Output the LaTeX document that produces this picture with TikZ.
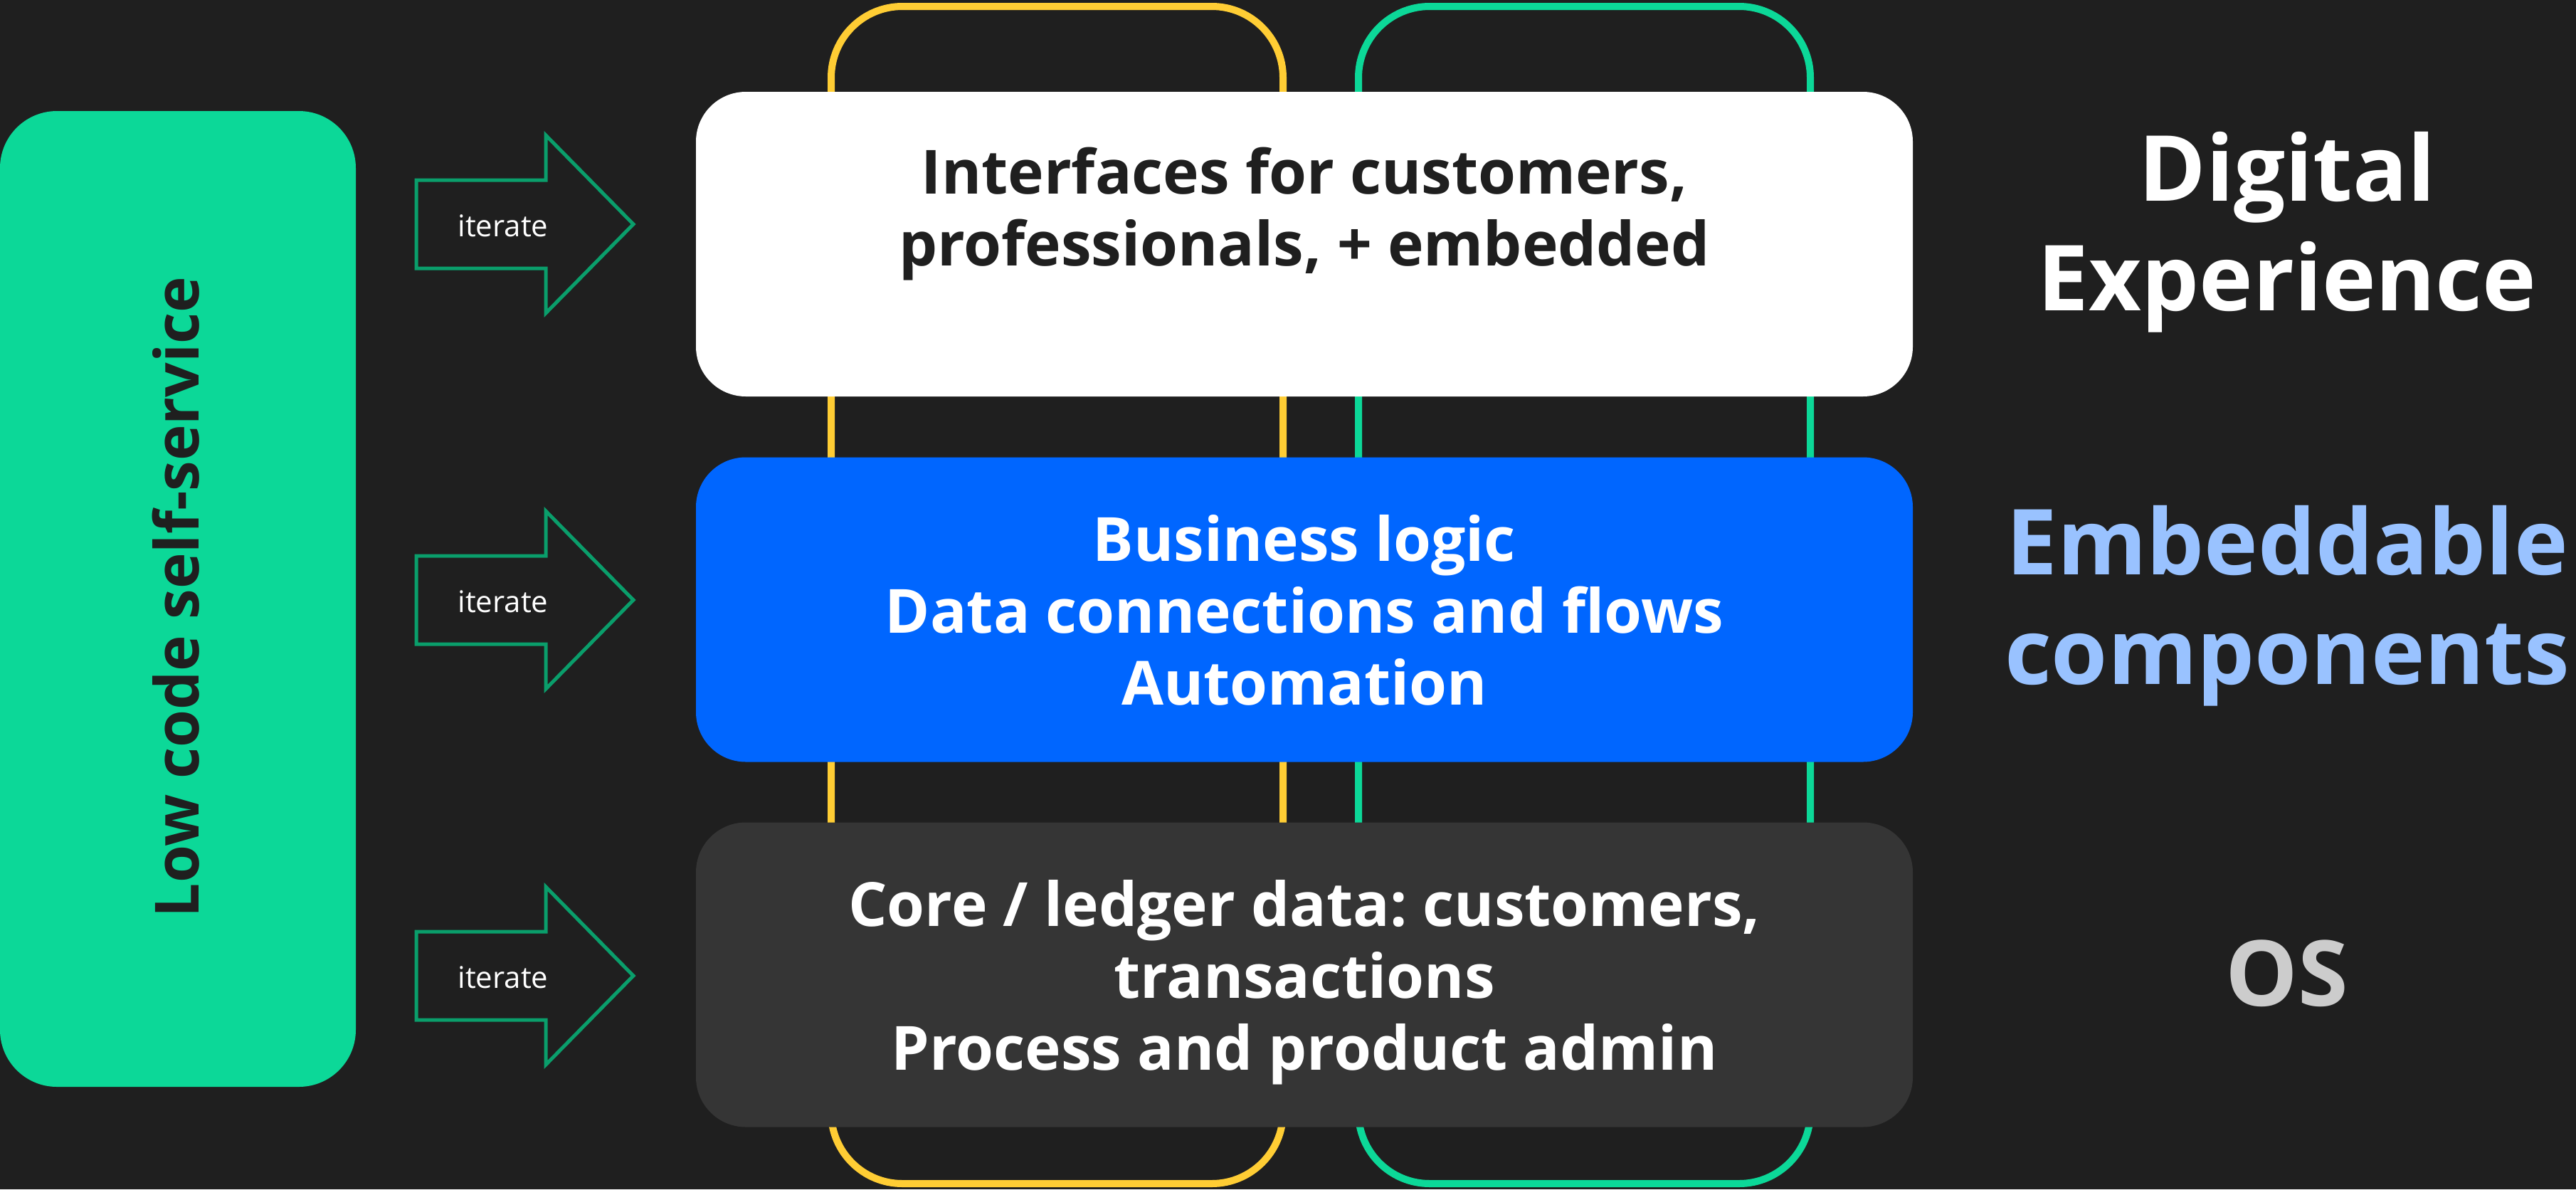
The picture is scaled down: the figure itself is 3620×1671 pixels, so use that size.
\documentclass[tikz,border=0pt]{standalone}
\usepackage{fontspec}
\setmainfont{Open Sans}
\definecolor{bgc}{HTML}{1F1F1F}
\definecolor{mint}{HTML}{0CD898}
\definecolor{gold}{HTML}{FFCD34}
\definecolor{bluebox}{HTML}{0066FF}
\definecolor{darkbox}{HTML}{353535}
\definecolor{arrowgreen}{HTML}{0A9E6B}
\definecolor{lightblue}{HTML}{99C2FF}
\definecolor{lightgrey}{HTML}{CCCCCC}
\newcommand{\mystrut}[1]{\rule{0pt}{#1}}
\frenchspacing
\begin{document}
\begin{tikzpicture}[x=0.25pt,y=-0.25pt,
  layerbox/.style={rectangle, rounded corners=17.5pt, minimum width=427.5pt, minimum height=107pt, inner sep=0pt, draw=none},
  outlinebox/.style={line width=2.5pt, rounded corners=25pt},
  maintext/.style={align=center, inner sep=0pt, anchor=north, font=\frenchspacing\bfseries\fontsize{21.4pt}{25.25pt}\selectfont},
  sidetext/.style={align=center, inner sep=0pt, anchor=north, font=\bfseries\fontsize{32pt}{38.5pt}\selectfont},
  arrowline/.style={draw=arrowgreen, line width=1.25pt, line join=miter},
  itertext/.style={text=white, inner sep=0pt, anchor=base, font=\fontsize{10.5pt}{12pt}\selectfont},
  iter/.pic={
    \draw[arrowline] (0,-62) -- (182,-62) -- (182,-125) -- (305,0) -- (182,125) -- (182,62) -- (0,62) -- cycle;
    \node[itertext] (lbl) at (122,17) {iterate};
  }]
\useasboundingbox (0,0) rectangle (3620,1671);
\fill[bgc] (0,0) rectangle (3620,1671);

% vertical outlines
\draw[outlinebox, draw=gold] (1168,9) rectangle (1803,1663);
\draw[outlinebox, draw=mint] (1909,9) rectangle (2544,1663);

% layer boxes
\node[layerbox, fill=white] (dx) at (1833,343) {};
\node[layerbox, fill=bluebox] (emb) at (1833,856.5) {};
\node[layerbox, fill=darkbox] (os) at (1833,1369.5) {};

\node[maintext, text=bgc] (dxt) at (1833,152) {\mystrut{30pt}Interfaces for customers,\\professionals, + embedded};
\node[maintext, text=white] (embt) at (1833,668) {\mystrut{30pt}Business logic\\Data connections and flows\\Automation};
\node[maintext, text=white] (ost) at (1833,1181) {\mystrut{30pt}Core / ledger data: customers,\\transactions\\Process and product admin};

% left low-code box
\node[rectangle, rounded corners=20pt, fill=mint, minimum width=125pt, minimum height=342.75pt, inner sep=0pt] (lc) at (250,841.5) {};
\node[rotate=90, anchor=base, inner sep=0pt, text=bgc, font=\bfseries\fontsize{21.4pt}{25.25pt}\selectfont] (lct) at (279,839) {Low code self-service};

% iterate arrows
\pic (a1) at (585,315) {iter};
\pic (a2) at (585,843) {iter};
\pic (a3) at (585,1371) {iter};

% right labels
\node[sidetext, text=white] (dxl) at (3214,122) {\mystrut{40pt}Digital\\Experience};
\node[sidetext, text=lightblue] (embl) at (3214,647) {\mystrut{40pt}Embeddable\\components};
\node[sidetext, text=lightgrey] (osl) at (3214,1253) {\mystrut{40pt}OS};
\end{tikzpicture}
\end{document}
